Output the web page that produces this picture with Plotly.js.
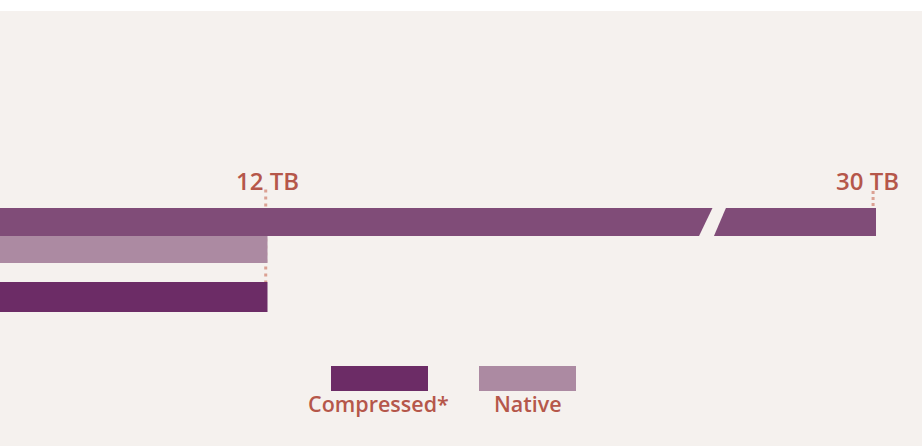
<!DOCTYPE html>
<html><head><meta charset="utf-8">
<script src="https://cdn.plot.ly/plotly-3.0.1.min.js"></script>
<style>html,body{margin:0;padding:0;background:#ffffff;} #chart{position:absolute;left:0;top:11px;width:922px;height:435px;}</style>
</head><body><div id="chart"></div>
<script>
// ---- data ----
const categories = ['Maximum', 'Native', 'Compressed*'];
const capacityTB = [30, 12, 12];
const valueLabels = ['30 TB', '12 TB'];
const labelValues = [30, 12];
const legendLabels = ['Compressed*', 'Native'];

// ---- styles / layout ----
const BG = '#f5f1ee';
const TXT = '#b5574a';
const DOT = '#dba193';
const colors = {'Maximum': '#804c78', 'Native': '#ac8aa2', 'Compressed*': '#6c2c66'};
const rowPos = {'Maximum': 0, 'Native': 1, 'Compressed*': 2.778};
const rowWidth = {'Maximum': 1.037, 'Native': 1.037, 'Compressed*': 1.111};
const axisOf = {'Maximum': 'x2', 'Native': 'x', 'Compressed*': 'x'};
const FONT = '"Open Sans", "Noto Sans", sans-serif';

const traces = categories.map((c, i) => ({
  type: 'bar', orientation: 'h',
  x: [capacityTB[i]], y: [rowPos[c]], width: [rowWidth[c]],
  base: 0, xaxis: axisOf[c], yaxis: 'y',
  marker: {color: colors[c], line: {width: 0}},
  hoverinfo: 'skip', showlegend: false, name: c
}));

const shapes = [
  // dotted guide at 12 TB
  {type: 'line', xref: 'x', yref: 'y', x0: labelValues[1] - 0.08, x1: labelValues[1] - 0.08, y0: -1.2, y1: 2.22,
   line: {color: DOT, width: 3, dash: '3px,4px'}, layer: 'below'},
  // dotted guide at 30 TB
  {type: 'line', xref: 'x2', yref: 'y', x0: labelValues[0] - 0.1, x1: labelValues[0] - 0.1, y0: -1.15, y1: -0.5,
   line: {color: DOT, width: 3, dash: '3px,3px'}, layer: 'below'},
  // scale break on the top bar
  {type: 'path', xref: 'x2', yref: 'y', layer: 'above', line: {width: 0}, fillcolor: BG,
   path: 'M 23.94 0.52 L 24.40 -0.52 L 24.86 -0.52 L 24.45 0.52 Z'},
  // legend swatches
  {type: 'rect', xref: 'paper', yref: 'paper', x0: 331/922, x1: 428/922, y0: 1 - 380/435, y1: 1 - 355/435,
   fillcolor: colors['Compressed*'], line: {width: 0}},
  {type: 'rect', xref: 'paper', yref: 'paper', x0: 479/922, x1: 576/922, y0: 1 - 380/435, y1: 1 - 355/435,
   fillcolor: colors['Native'], line: {width: 0}}
];

const annotations = [
  {text: valueLabels[1], x: labelValues[1], xref: 'x', y: -1.55, yref: 'y', showarrow: false,
   xanchor: 'center', yanchor: 'middle', font: {family: FONT, size: 24, color: TXT, weight: 600}},
  {text: valueLabels[0], x: labelValues[0], xref: 'x2', y: -1.55, yref: 'y', showarrow: false, xshift: -9,
   xanchor: 'center', yanchor: 'middle', font: {family: FONT, size: 24, color: TXT, weight: 600}},
  {text: legendLabels[0], x: 378.5/922, xref: 'paper', y: 1 - 392/435, yref: 'paper', showarrow: false,
   xanchor: 'center', yanchor: 'middle', font: {family: FONT, size: 21.5, color: TXT, weight: 600}},
  {text: legendLabels[1], x: 528/922, xref: 'paper', y: 1 - 392/435, yref: 'paper', showarrow: false,
   xanchor: 'center', yanchor: 'middle', font: {family: FONT, size: 21.5, color: TXT, weight: 600}}
];

const hidden = {showgrid: false, zeroline: false, showticklabels: false, showline: false, ticks: '', fixedrange: true};
const layout = {
  width: 922, height: 435,
  margin: {l: 0, r: 0, t: 0, b: 0, pad: 0},
  paper_bgcolor: BG, plot_bgcolor: BG,
  showlegend: false,
  barmode: 'overlay',
  xaxis: Object.assign({range: [0, 12 * 922 / 267.5]}, hidden),
  xaxis2: Object.assign({range: [0, 30 * 922 / 876], overlaying: 'x', side: 'top', visible: false}, hidden),
  yaxis: Object.assign({range: [8.296, -7.815]}, hidden),
  shapes: shapes,
  annotations: annotations
};

Plotly.newPlot('chart', traces, layout, {displayModeBar: false, staticPlot: true});
</script>
</body></html>
